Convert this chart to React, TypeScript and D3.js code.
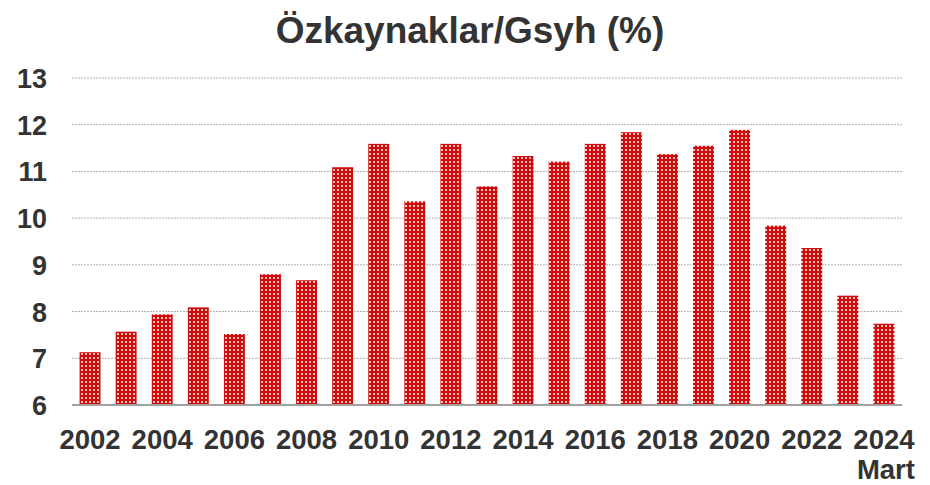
import React from 'react';
import * as d3 from 'd3';

const years = ['2002','2003','2004','2005','2006','2007','2008','2009','2010','2011','2012','2013','2014','2015','2016','2017','2018','2019','2020','2021','2022','2023','2024'];
const values = [7.13, 7.57, 7.94, 8.09, 7.52, 8.8, 8.67, 11.09, 11.59, 10.36, 11.59, 10.68, 11.33, 11.21, 11.59, 11.84, 11.37, 11.55, 11.89, 9.84, 9.36, 8.34, 7.74];
const yTicks = [6, 7, 8, 9, 10, 11, 12, 13];
const shownYears = ['2002','2004','2006','2008','2010','2012','2014','2016','2018','2020','2022','2024'];

const width = 930;
const height = 485;
const margin = { top: 78, right: 28, bottom: 80, left: 72 };

const App = () => {
  const x = d3.scaleBand()
    .domain(years)
    .range([margin.left, width - margin.right])
    .paddingInner(0.42)
    .paddingOuter(0.21);

  const y = d3.scaleLinear()
    .domain([6, 13])
    .range([height - margin.bottom, margin.top]);

  const font = '"Liberation Sans", Arial, sans-serif';
  const lastRight = (x('2024') as number) + x.bandwidth() / 2 + 31;

  return (
    <svg width={width} height={height} style={{ position: 'absolute', left: 0, top: 0, background: '#fff' }}>
      <defs>
        <pattern id="dots" width="4" height="4" patternUnits="userSpaceOnUse">
          <rect width="4" height="4" fill="#d10a0a" />
          <rect x="1" y="1" width="2" height="2" fill="#f4c4c4" />
        </pattern>
      </defs>

      <text x={470} y={43} textAnchor="middle" fontFamily={font} fontWeight="bold" fontSize={37} fill="#333">
        Özkaynaklar/Gsyh (%)
      </text>

      {/* grid */}
      {yTicks.filter(t => t > 6).map(t => (
        <line key={t} x1={margin.left} x2={width - margin.right} y1={y(t)} y2={y(t)}
          stroke="#b0b0b0" strokeWidth={1} strokeDasharray="2,1" />
      ))}

      {/* y labels */}
      {yTicks.map(t => (
        <text key={t} x={47} y={y(t) + 10} textAnchor="end" fontFamily={font} fontWeight="bold" fontSize={27} fill="#333">
          {t}
        </text>
      ))}

      {/* bars */}
      {years.map((yr, i) => (
        <rect key={yr} x={x(yr)} y={y(values[i])} width={x.bandwidth()} height={y(6) - y(values[i])}
          fill="url(#dots)" />
      ))}

      {/* baseline */}
      <line x1={margin.left} x2={width - margin.right} y1={y(6)} y2={y(6)} stroke="#a0a0a0" strokeWidth={2} />

      {/* x labels */}
      {shownYears.map(yr => (
        <text key={yr} x={(x(yr) as number) + x.bandwidth() / 2} y={449} textAnchor="middle"
          fontFamily={font} fontWeight="bold" fontSize={27.5} fill="#333">
          {yr}
        </text>
      ))}
      <text x={lastRight} y={479} textAnchor="end"
        fontFamily={font} fontWeight="bold" fontSize={27.5} fill="#333">
        Mart
      </text>
    </svg>
  );
};

export default App;
